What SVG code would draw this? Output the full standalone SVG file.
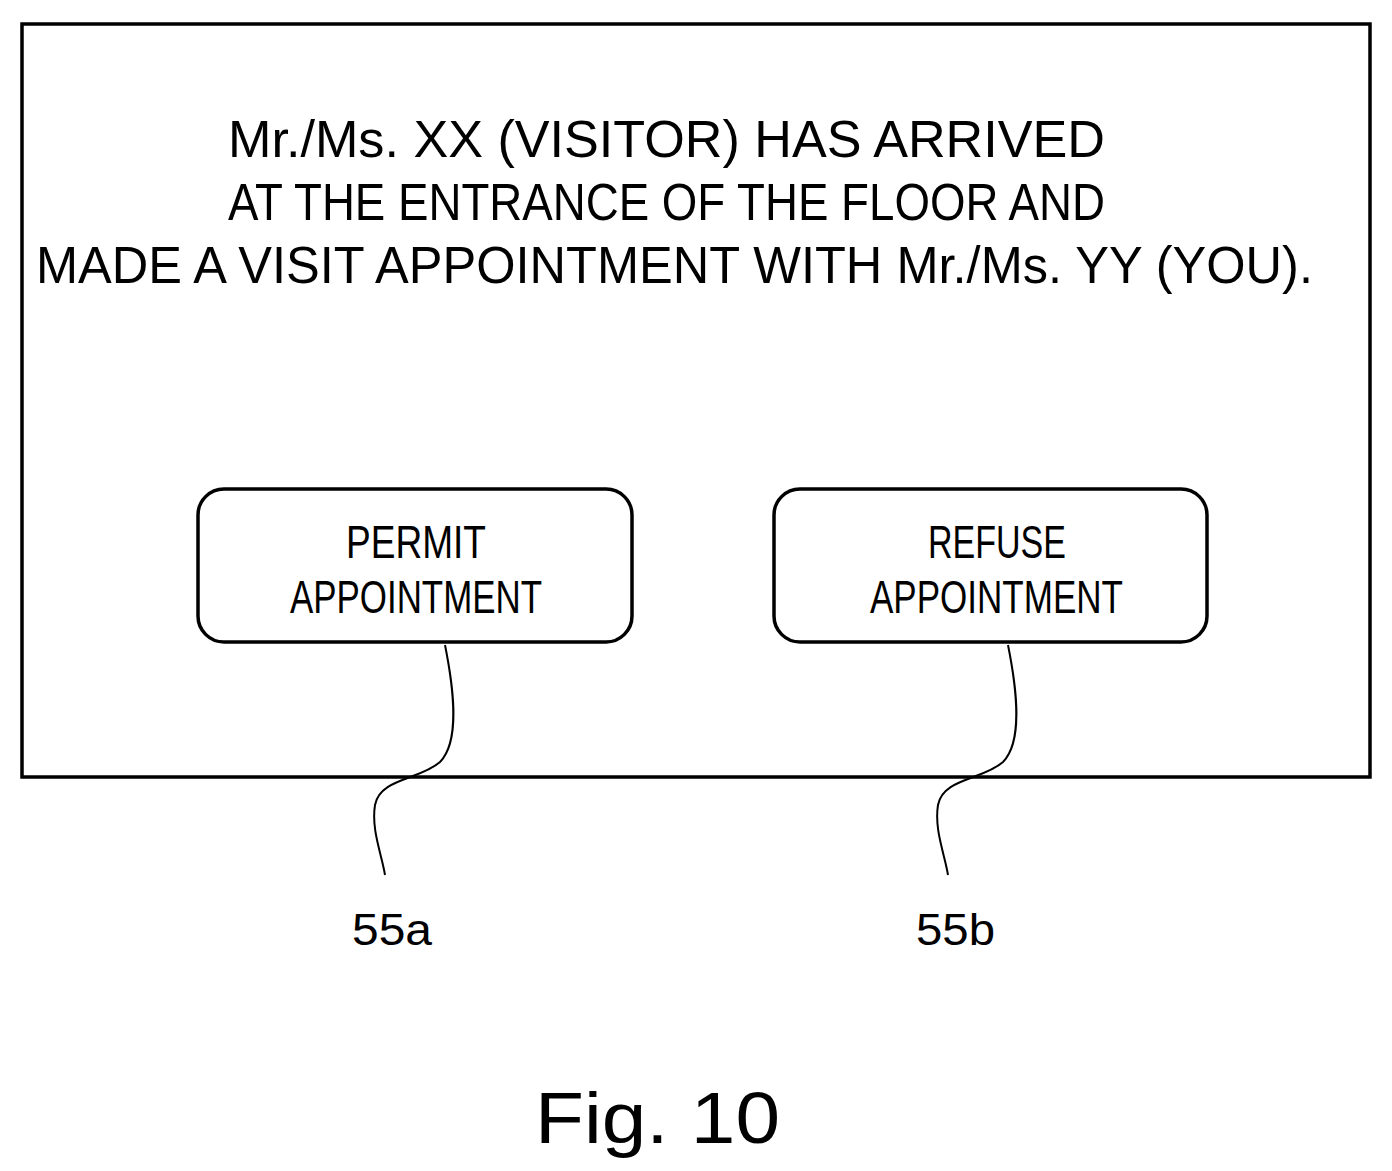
<svg xmlns="http://www.w3.org/2000/svg" width="1392" height="1171" viewBox="0 0 1392 1171">
<style>
text{font-family:"Liberation Sans","DejaVu Sans",sans-serif;fill:#000}
.m{font-size:52px}
.b{font-size:46px}
.btn{fill:#fff;stroke:#000;stroke-width:3.5}
.lead{fill:none;stroke:#000;stroke-width:2}
</style>
<rect width="1392" height="1171" fill="#fff"/>
<g id="screen">
<rect x="22" y="24" width="1348" height="753" fill="none" stroke="#000" stroke-width="3.5"/>
<text class="m" x="228" y="157" textLength="877" lengthAdjust="spacingAndGlyphs">Mr./Ms. XX (VISITOR) HAS ARRIVED</text>
<text class="m" x="228" y="220" textLength="877" lengthAdjust="spacingAndGlyphs">AT THE ENTRANCE OF THE FLOOR AND</text>
<text class="m" x="36" y="283" textLength="1277" lengthAdjust="spacingAndGlyphs">MADE A VISIT APPOINTMENT WITH Mr./Ms. YY (YOU).</text>
</g>
<g id="permit">
<rect class="btn" x="198" y="489" width="434" height="153" rx="26"/>
<text class="b" x="346" y="558" textLength="140" lengthAdjust="spacingAndGlyphs">PERMIT</text>
<text class="b" x="290" y="613" textLength="252" lengthAdjust="spacingAndGlyphs">APPOINTMENT</text>
</g>
<g id="refuse">
<rect class="btn" x="774" y="489" width="433" height="153" rx="26"/>
<text class="b" x="928" y="558" textLength="138" lengthAdjust="spacingAndGlyphs">REFUSE</text>
<text class="b" x="870" y="613" textLength="253" lengthAdjust="spacingAndGlyphs">APPOINTMENT</text>
</g>
<g id="connectors">
<path class="lead" d="M445,645 C452,680 462,740 440,762 C420,780 380,778 375,805 C371,830 382,855 385,875"/>
<path class="lead" d="M1008,645 C1015,680 1025,740 1003,762 C983,780 943,778 938,805 C934,830 945,855 948,875"/>
</g>
<g id="labels">
<text x="352" y="945" font-size="44" textLength="80" lengthAdjust="spacingAndGlyphs">55a</text>
<text x="916" y="945" font-size="44" textLength="79" lengthAdjust="spacingAndGlyphs">55b</text>
<text x="535" y="1143" font-size="72" textLength="245" lengthAdjust="spacingAndGlyphs">Fig. 10</text>
</g>
</svg>
